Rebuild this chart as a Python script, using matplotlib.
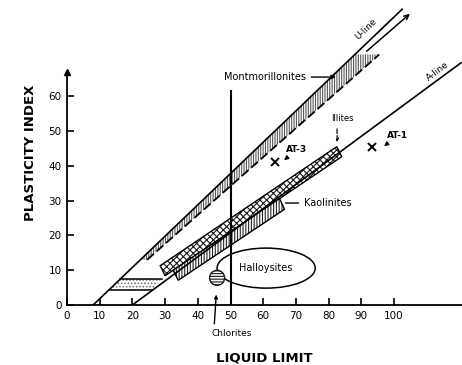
import matplotlib.pyplot as plt
from matplotlib.patches import Polygon, Ellipse

plt.rcParams['hatch.linewidth'] = 0.8

# axis ticks
x_ticks = [0, 10, 20, 30, 40, 50, 60, 70, 80, 90, 100]
y_ticks = [0, 10, 20, 30, 40, 50, 60]

# reference lines (liquid limit, plasticity index)
u_line_ll = [8, 102.5]
u_line_pi = [0, 85.0]
a_line_ll = [20, 120.5]
a_line_pi = [0, 69.6]
mont_dash_ll = [24.5, 95.5]
mont_dash_pi = [13, 72]
mont_arrow_ll = [91, 105.5]
mont_arrow_pi = [72.4, 84.2]
ll50_ll = [50, 50]
ll50_pi = [0, 61.5]

# mineral zones
mont_ll = [22.4, 88, 95.5, 24.5]
mont_pi = [13, 72, 72, 13]
illite_ll = [28.5, 82.5, 84, 30]
illite_pi = [11.3, 45.5, 42.6, 8.4]
kaol_ll = [32.5, 65, 66.5, 34]
kaol_pi = [10.0, 30.6, 27.5, 7.1]
low_ll = [12.8, 16.3, 29, 26]
low_pi = [4.3, 7.5, 7.5, 4.3]
halloy_center = (60.9, 10.6)
halloy_size = (30, 11.5)
chlor_center = (45.9, 7.8)
chlor_size = (4.6, 4.3)

# soil samples
samples = ['AT-3', 'AT-1']
sample_ll = [63.6, 93.2]
sample_pi = [41.1, 45.4]

fig = plt.figure(figsize=(4.62, 3.65), dpi=100)
ax = fig.add_axes([67 / 462, 60 / 365, 395 / 462, 305 / 365])
ax.set_xlim(0, 395 / 3.27)
ax.set_ylim(0, 305 / 3.48)

# zones
ax.add_patch(Polygon(list(zip(mont_ll, mont_pi)), closed=True, facecolor='white',
                     edgecolor='0.35', hatch='|||||||', lw=0))
ax.add_patch(Polygon(list(zip(illite_ll, illite_pi)), closed=True, facecolor='white',
                     edgecolor='0.1', hatch='xxxxx', lw=0))
ax.add_patch(Polygon(list(zip(illite_ll, illite_pi)), closed=True, fill=False,
                     edgecolor='k', lw=1.0))
ax.add_patch(Polygon(list(zip(kaol_ll, kaol_pi)), closed=True, facecolor='white',
                     edgecolor='0.15', hatch='||||||', lw=0))
ax.add_patch(Polygon(list(zip(kaol_ll, kaol_pi)), closed=True, fill=False,
                     edgecolor='k', lw=1.0))
ax.add_patch(Polygon(list(zip(low_ll, low_pi)), closed=True, facecolor='white',
                     edgecolor='0.45', hatch='.....', lw=0))
ax.plot([low_ll[0], low_ll[3]], [low_pi[0], low_pi[3]], color='k', lw=1.1)
ax.plot([low_ll[1], low_ll[2]], [low_pi[1], low_pi[2]], color='k', lw=1.1)
ax.add_patch(Ellipse(halloy_center, *halloy_size, facecolor='none', edgecolor='k', lw=1.1))
ax.add_patch(Ellipse(chlor_center, *chlor_size, facecolor='white', edgecolor='0.1',
                     hatch='------', lw=1.0))

# lines
ax.plot(u_line_ll, u_line_pi, color='k', lw=1.2)
ax.plot(a_line_ll, a_line_pi, color='k', lw=1.2)
ax.plot(mont_dash_ll, mont_dash_pi, color='k', lw=1.3, linestyle=(0, (5, 2)))
ax.annotate('', xy=(mont_arrow_ll[1], mont_arrow_pi[1]), xytext=(mont_arrow_ll[0], mont_arrow_pi[0]),
            arrowprops=dict(arrowstyle='->', lw=1.1, color='k', mutation_scale=8))
ax.plot(ll50_ll, ll50_pi, color='k', lw=1.5)

# samples
ax.plot(sample_ll, sample_pi, linestyle='none', marker='x', ms=6, mew=1.4, color='k')
ax.annotate(samples[0], xy=(sample_ll[0] + 2.1, sample_pi[0]), xytext=(sample_ll[0] + 6.7, sample_pi[0] + 2.2),
            fontsize=6.5, fontweight='bold', ha='center', va='bottom',
            arrowprops=dict(arrowstyle='-|>', lw=1.0, color='k', mutation_scale=6))
ax.annotate(samples[1], xy=(sample_ll[1] + 3.1, sample_pi[1] - 0.3), xytext=(sample_ll[1] + 7.8, sample_pi[1] + 2.0),
            fontsize=6.5, fontweight='bold', ha='center', va='bottom',
            arrowprops=dict(arrowstyle='-|>', lw=1.0, color='k', mutation_scale=6))

# labels
ax.text(91.4, 79.3, 'U-line', fontsize=6.5, rotation=44, ha='center', va='center')
ax.text(113.5, 67.2, 'A-line', fontsize=6.5, rotation=37, ha='center', va='center')
ax.annotate('Montmorillonites', xy=(83, 65.5), xytext=(73, 65.5), fontsize=7,
            ha='right', va='center',
            arrowprops=dict(arrowstyle='->', lw=1.0, color='k', mutation_scale=6))
ax.annotate('Kaolinites', xy=(66, 29.3), xytext=(72.5, 29.3), fontsize=7,
            ha='left', va='center', arrowprops=dict(arrowstyle='-', lw=1.0, color='k'))
ax.annotate('Illites', xy=(82.6, 46), xytext=(84.3, 52.2), fontsize=6, ha='center', va='bottom',
            arrowprops=dict(arrowstyle='->', lw=0.9, color='k', linestyle='--',
                            mutation_scale=5, relpos=(0.25, 0)))
ax.text(halloy_center[0], halloy_center[1], 'Halloysites', fontsize=7, ha='center', va='center')
ax.annotate('Chlorites', xy=(45.7, 3.8), xytext=(50.5, -8.3), fontsize=6.5,
            ha='center', va='center', annotation_clip=False,
            arrowprops=dict(arrowstyle='-|>', lw=1.0, color='k', mutation_scale=5,
                            relpos=(0.05, 1.0)))

# axes
for s in ['top', 'right']:
    ax.spines[s].set_visible(False)
ax.spines['left'].set_bounds(0, 66)
ax.spines['left'].set_linewidth(1.3)
ax.spines['bottom'].set_linewidth(1.3)
ax.plot([0], [67], marker='^', ms=4, color='k', clip_on=False)
ax.set_xticks(x_ticks)
ax.set_yticks(y_ticks)
ax.tick_params(direction='in', length=5, width=1.2, labelsize=7.5, pad=4)
ax.set_xlabel('LIQUID LIMIT', fontsize=9.5, fontweight='bold', labelpad=22)
ax.set_ylabel('PLASTICITY INDEX', fontsize=9.5, fontweight='bold', labelpad=8)

fig.savefig('out.png', dpi=100)
